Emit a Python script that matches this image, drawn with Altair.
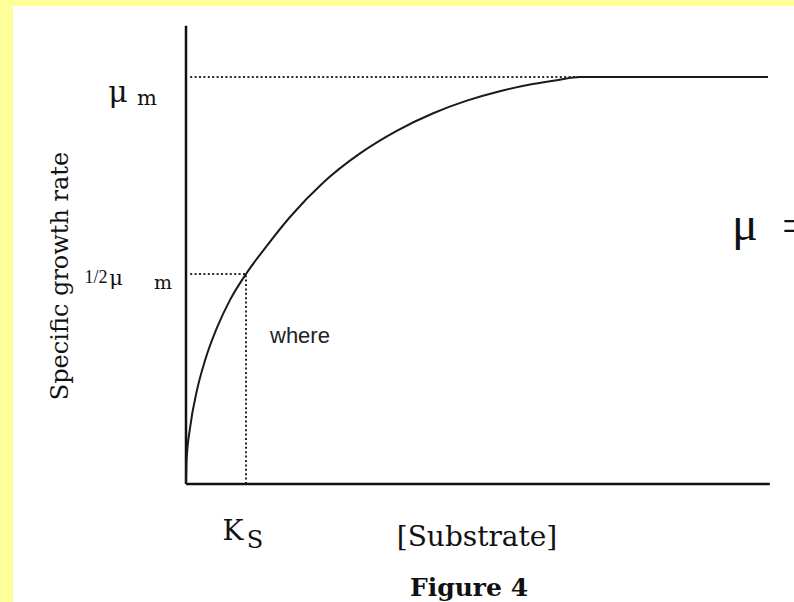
import altair as alt
import pandas as pd

# Monod-type curve: substrate in units of K_S, growth rate in units of mu_max
substrate = [0.0, 0.01, 0.07, 0.18, 0.32, 0.52, 0.73, 1.0, 1.35, 1.73, 2.28,
             2.9, 3.52, 4.12, 4.68, 5.23, 5.78, 6.18, 6.57, 9.7]
growth = [-0.033, 0.028, 0.112, 0.203, 0.282, 0.365, 0.433, 0.5, 0.572, 0.644,
          0.731, 0.806, 0.864, 0.908, 0.94, 0.964, 0.982, 0.992, 1.0, 1.0]

MU_MAX = 1.0
HALF_MU = 0.5
KS = 1.0
Y_FLOOR = -0.033      # where the substrate axis sits
Y_TOP = 1.13          # top of the growth-rate axis
X_END = 9.73          # right end of the substrate axis
PLATEAU_START = 6.57  # where the curve meets mu_max

X_DOMAIN = [-2.8833, 10.1333]
Y_DOMAIN = [-0.3325, 1.1802]

SERIF = "DejaVu Serif"
INK = "#111111"

xs = alt.Scale(domain=X_DOMAIN, nice=False, zero=False)
ys = alt.Scale(domain=Y_DOMAIN, nice=False, zero=False)

one = pd.DataFrame({"k": [0]})
curve_df = pd.DataFrame({"s": substrate, "mu": growth})


def hline(y, x0, x1, **kw):
    return alt.Chart(one).mark_rule(**kw).encode(
        x=alt.X(datum=x0, scale=xs, axis=None),
        x2=alt.X2(datum=x1),
        y=alt.Y(datum=y, scale=ys, axis=None),
    )


def vline(x, y0, y1, **kw):
    return alt.Chart(one).mark_rule(**kw).encode(
        x=alt.X(datum=x, scale=xs, axis=None),
        y=alt.Y(datum=y0, scale=ys, axis=None),
        y2=alt.Y2(datum=y1),
    )


def anchored_text(text, x, y, **kw):
    return alt.Chart(one).mark_text(text=text, **kw).encode(
        x=alt.X(datum=x, scale=xs, axis=None),
        y=alt.Y(datum=y, scale=ys, axis=None),
    )


def free_text(text, px, py, **kw):
    return alt.Chart(one).mark_text(text=text, **kw).encode(
        x=alt.value(px), y=alt.value(py)
    )


dots = dict(color="#2a2a2a", strokeWidth=2, strokeDash=[2, 2.4])

layers = [
    # guide lines
    hline(MU_MAX, 0.07, PLATEAU_START, **dots),
    hline(HALF_MU, 0.07, KS, **dots),
    vline(KS, Y_FLOOR, HALF_MU, **dots),
    # axes
    vline(0, Y_FLOOR, Y_TOP, color=INK, strokeWidth=2.5),
    hline(Y_FLOOR, 0, X_END, color=INK, strokeWidth=2.5),
    # growth curve
    alt.Chart(curve_df).mark_line(
        color="#1a1a1a", strokeWidth=2, interpolate="monotone"
    ).encode(
        x=alt.X("s:Q", scale=xs, axis=None),
        y=alt.Y("mu:Q", scale=ys, axis=None),
    ),
    # axis marks
    anchored_text("\u03bc", 0, MU_MAX, dx=-68, dy=16, font=SERIF, fontSize=30,
                  align="center", color=INK),
    anchored_text("m", 0, MU_MAX, dx=-39, dy=22, font=SERIF, fontSize=21,
                  align="center", color=INK),
    anchored_text("1/2", 0, HALF_MU, dx=-90, dy=4, font="Liberation Serif",
                  fontSize=18, align="center", color=INK),
    anchored_text("\u03bc", 0, HALF_MU, dx=-70, dy=5, font=SERIF, fontSize=21,
                  align="center", color=INK),
    anchored_text("m", 0, HALF_MU, dx=-23, dy=9, font=SERIF, fontSize=19,
                  align="center", color=INK),
    anchored_text("K", KS, Y_FLOOR, dx=-13, dy=48, font=SERIF, fontSize=28,
                  align="center", color=INK),
    anchored_text("S", KS, Y_FLOOR, dx=9, dy=57, font=SERIF, fontSize=24,
                  align="center", color=INK),
    # titles and notes
    free_text("[Substrate]", 464, 532, font=SERIF, fontSize=28,
              align="center", color=INK),
    free_text("Figure 4", 456, 582, font=SERIF, fontSize=25, fontWeight="bold",
              align="center", color=INK),
    free_text("Specific growth rate", 48, 270, font=SERIF, fontSize=24,
              angle=270, align="center", baseline="middle", color=INK),
    free_text("where", 257, 330, font="Liberation Sans", fontSize=22,
              align="left", color="#222222"),
    free_text("\u03bc", 719, 220, font="Liberation Serif", fontSize=48,
              align="left", color=INK),
    free_text("=", 769, 221, font="Liberation Serif", fontSize=46,
              align="left", color=INK),
]

chart = (
    alt.layer(*layers)
    .properties(
        width=781,
        height=596,
        autosize="none",
        padding={"left": 13, "top": 6, "right": 0, "bottom": 0},
        background="#FFFF99",
    )
    .configure_view(fill="white", stroke=None)
)

chart.save("out.html", embed_options={"renderer": "svg", "actions": False})
